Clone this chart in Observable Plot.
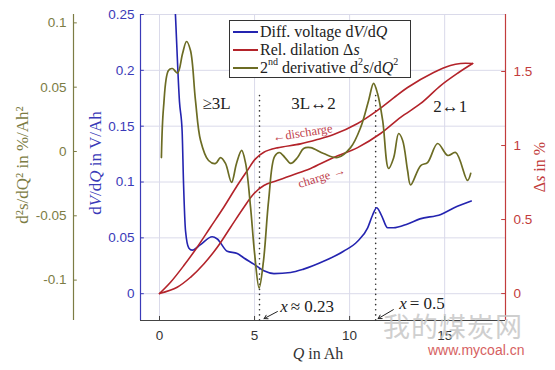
<!DOCTYPE html>
<html><head><meta charset="utf-8">
<script src="https://cdn.jsdelivr.net/npm/d3@7"></script>
<script src="https://cdn.jsdelivr.net/npm/@observablehq/plot@0.6"></script>
<style>
body{margin:0;background:#fff;}
#chart{position:relative;width:555px;height:370px;overflow:hidden;background:#fff;}
#chart svg{position:absolute;left:0;top:0;}
.ttl{position:absolute;font-family:"Liberation Serif",serif;font-size:17px;white-space:nowrap;transform:translate(-50%,-50%) rotate(-90deg);line-height:1;}
#xttl{position:absolute;font-family:"Liberation Serif",serif;font-size:16px;white-space:nowrap;transform:translate(-50%,-50%);color:#333;line-height:1;}
#legend{position:absolute;left:229px;top:20px;width:182px;height:58px;box-sizing:border-box;border:1px solid #333;background:#fff;font-family:"Liberation Serif",serif;font-size:16px;color:#222;padding-top:2px;}
#legend .row{height:18px;line-height:18px;white-space:nowrap;display:flex;align-items:center;}
#legend .sw{display:inline-block;width:25px;height:2px;margin:0 2px 0 3px;}
#legend sup{font-size:10px;position:relative;top:-6px;vertical-align:baseline;line-height:0;}
.wm1{position:absolute;left:383px;top:306px;font-family:"Noto Sans CJK SC",sans-serif;font-size:27px;color:#c4c4c4;opacity:0.8;letter-spacing:1px;}
.wm2{position:absolute;left:428px;top:342px;font-family:"Liberation Sans",sans-serif;font-size:14px;color:#d04545;opacity:0.85;}
</style></head><body>
<div id="chart"></div>
<script>
// ---- tick values ----
const qTicks = [0, 5, 10, 15];
const dvTicks = [0, 0.05, 0.1, 0.15, 0.2, 0.25];
const dsTicks = [0, 0.5, 1, 1.5];
const d2Ticks = [-0.1, -0.05, 0, 0.05, 0.1];

// ---- differential voltage dV/dQ (V/Ah) ----
const dvQ = [0.7,0.84,1.05,1.19,1.26,1.37,1.54,1.72,2.16,2.77,3.04,3.56,4.09,4.44,4.96,5.49,6.02,6.9,7.58,8.63,9.68,10.42,10.95,11.2,11.42,11.68,12.0,12.3,13.05,13.7,14.8,15.5,16.4];
const dvV = [0.30,0.249,0.172,0.1455,0.101,0.056,0.041,0.039,0.044,0.051,0.049,0.038,0.036,0.032,0.0265,0.0205,0.018,0.019,0.022,0.029,0.038,0.047,0.059,0.070,0.077,0.070,0.059,0.059,0.0625,0.067,0.071,0.077,0.083];

// ---- relative dilation Δs (%) ----
const disQ = [0,0.58,1.28,1.98,2.68,3.38,4.09,4.62,5.05,5.49,6.19,7.42,8.3,9.16,10.42,11.45,12.3,13.05,14.42,15.3,15.84,16.47];
const disS = [0,0.076,0.189,0.313,0.448,0.583,0.73,0.831,0.91,0.955,0.984,1.011,1.04,1.074,1.149,1.236,1.32,1.392,1.493,1.54,1.554,1.554];
const chgQ = [0,0.93,1.63,2.33,3.04,3.74,4.44,4.96,5.49,6.19,7.42,7.95,9.16,10.42,11.63,12.68,13.74,14.79,15.7,16.47];
const chgS = [0,0.043,0.11,0.2,0.313,0.448,0.583,0.674,0.73,0.764,0.82,0.845,0.919,0.986,1.081,1.19,1.284,1.405,1.49,1.554];

// ---- 2nd derivative d²s/dQ² (%/Ah²) ----
const d2Q = [0.1,0.21,0.47,0.68,0.95,1.21,1.42,1.63,1.89,2.16,2.58,2.95,3.21,3.47,3.79,4.05,4.32,4.53,4.79,5.0,5.24,5.47,5.74,6.05,6.3,6.6,6.9,7.26,7.58,7.95,8.63,9.37,10.05,10.58,11.0,11.26,11.47,11.74,12.05,12.32,12.58,12.79,13.05,13.21,13.74,14.1,14.63,15.16,15.58,16.2,16.37];
const d2V = [-0.0047,0.034,0.063,0.0645,0.061,0.076,0.0855,0.0785,0.040,0.0086,-0.007,-0.0093,-0.0047,-0.0093,-0.024,-0.0093,0.0008,-0.0093,-0.0435,-0.079,-0.106,-0.085,-0.038,-0.004,-0.0008,-0.0047,-0.0093,-0.0047,0.0023,0.003,-0.0016,-0.0047,0.003,0.0187,0.0397,0.053,0.045,0.024,-0.0132,-0.0047,0.014,0.0086,-0.0148,-0.026,-0.0109,-0.0086,0.0062,-0.0031,-0.0008,-0.0225,-0.017];

// ---- annotations ----
const phaseLabels = ["≥3L", "3L↔2", "2↔1"];
const phaseQ = [3.0, 8.1, 15.3];
const phaseV = [0.1705, 0.1705, 0.168];
const transQ = [5.26, 11.37];
const dirLabels = ["←discharge", "charge →"];
const dirQ = [7.53, 8.53];
const dirV = [0.144, 0.1045];
const dirAngle = [-9, -17];
const xEqLabels = ["≈ 0.23", "= 0.5"];
const xEqQ = [6.9, 13.16];
const xEqV = [-0.0116, -0.009];
const arrowQ1 = [6.2, 12.3], arrowV1 = [-0.016, -0.0143];
const arrowQ2 = [5.5, 11.5], arrowV2 = [-0.0223, -0.0223];

// ---- colours ----
const cBlue = "#2424b0", cRed = "#b3232a", cGreen = "#6c6c24";
const aBlue = "#3a3ab8", aRed = "#c23c3c", aGreen = "#7c7c44";

const W = 555, H = 370;
const M = {marginLeft: 140, marginRight: 50, marginTop: 14, marginBottom: 50};
const xDom = [-1, 18.2];
const dvDom = [-0.024, 0.25];
const dsDom = [-0.182, 1.885];
const d2Dom = [-0.1314, 0.1065];
const baseStyle = {fontFamily: "Liberation Sans, Arial, sans-serif", fontSize: "13.5px", overflow: "visible"};

const blueData = dvQ.map((q, i) => ({q, v: dvV[i]}));
const disData = disQ.map((q, i) => ({q, s: disS[i]}));
const chgData = chgQ.map((q, i) => ({q, s: chgS[i]}));
const d2Data = d2Q.map((q, i) => ({q, g: d2V[i]}));

const chart = document.getElementById("chart");

// Layer 1: grid, x axis, blue axis, blue curve, annotations
const p1 = Plot.plot({
  width: W, height: H, ...M,
  x: {domain: xDom}, y: {domain: dvDom},
  style: {...baseStyle, background: "white"},
  marks: [
    Plot.gridY(dvTicks, {stroke: "#dadaea", strokeOpacity: 1}),
    Plot.gridX(qTicks, {stroke: "#dadaea", strokeOpacity: 1}),
    Plot.ruleY([dvDom[0]], {stroke: "#444", strokeWidth: 1.2}),
    Plot.ruleX(qTicks, {y1: dvDom[0], y2: dvDom[0] + 0.0036, stroke: "#444"}),
    Plot.axisX(qTicks, {tickSize: 0, tickPadding: 10, label: null, tickFormat: d => String(d), color: "#333"}),
    Plot.ruleX([xDom[0]], {stroke: aBlue, strokeWidth: 1.2}),
    Plot.ruleY(dvTicks, {x1: xDom[0], x2: xDom[0] + 0.2, stroke: aBlue}),
    Plot.axisY(dvTicks, {tickSize: 0, tickPadding: 6, label: null, tickFormat: d => String(d), color: aBlue}),
    Plot.ruleX(transQ, {y1: dvDom[0], y2: 0.177, stroke: "#333", strokeWidth: 1.6, strokeDasharray: "0.1,5", strokeLinecap: "round"}),
    Plot.line(blueData, {x: "q", y: "v", stroke: cBlue, strokeWidth: 1.6, curve: "monotone-x", clip: true}),
    Plot.text(phaseLabels, {x: phaseQ, y: phaseV, text: d => d, fontFamily: "Liberation Serif, serif", fontSize: 17, fill: "#222"}),
    Plot.text(dirLabels, {x: dirQ, y: dirV, text: d => d, rotate: (d, i) => dirAngle[i], fontFamily: "Liberation Serif, serif", fontSize: 12.5, fill: "#c0404c", letterSpacing: "0.6px"}),
    Plot.text(xEqLabels, {x: xEqQ, y: xEqV, text: d => d, textAnchor: "start", fontFamily: "Liberation Serif, serif", fontSize: 17, fill: "#222"}),
    Plot.text(xEqLabels, {x: xEqQ, y: xEqV, text: () => "x", textAnchor: "end", dx: -3, fontStyle: "italic", fontFamily: "Liberation Serif, serif", fontSize: 17, fill: "#222"}),
    Plot.arrow(transQ, {x1: arrowQ1, y1: arrowV1, x2: arrowQ2, y2: arrowV2, stroke: "#222", strokeWidth: 1, headLength: 6})
  ]
});

// Layer 2: red dilation curves and right axis
const p2 = Plot.plot({
  width: W, height: H, ...M,
  x: {domain: xDom, axis: null}, y: {domain: dsDom},
  style: {...baseStyle, background: "transparent"},
  marks: [
    Plot.ruleX([xDom[1]], {stroke: aRed, strokeWidth: 1.2}),
    Plot.ruleY(dsTicks, {x1: xDom[1] - 0.2, x2: xDom[1], stroke: aRed}),
    Plot.axisY(dsTicks, {anchor: "right", tickSize: 0, tickPadding: 8, label: null, tickFormat: d => String(d), color: aRed}),
    Plot.line(disData, {x: "q", y: "s", stroke: cRed, strokeWidth: 1.6, curve: "catmull-rom"}),
    Plot.line(chgData, {x: "q", y: "s", stroke: cRed, strokeWidth: 1.6, curve: "catmull-rom"})
  ]
});

// Layer 3: green 2nd derivative and far-left axis
const gdx = -67;
const p3 = Plot.plot({
  width: W, height: H, ...M,
  x: {domain: xDom, axis: null}, y: {domain: d2Dom},
  style: {...baseStyle, background: "transparent"},
  marks: [
    Plot.ruleX([xDom[0]], {dx: gdx, stroke: aGreen, strokeWidth: 1.2}),
    Plot.ruleY(d2Ticks, {x1: xDom[0], x2: xDom[0] + 0.2, dx: gdx, stroke: aGreen}),
    Plot.axisY(d2Ticks, {tickSize: 0, tickPadding: 7, dx: gdx, label: null, tickFormat: d => String(d), color: aGreen}),
    Plot.line(d2Data, {x: "q", y: "g", stroke: cGreen, strokeWidth: 1.7, curve: "catmull-rom"})
  ]
});

for (const p of [p1, p2, p3]) chart.appendChild(p);

// axis titles, legend, watermark
chart.insertAdjacentHTML("beforeend", `
<div class="ttl" style="left:22px;top:165px;color:${aGreen}">d²s/dQ² in %/Ah²</div>
<div class="ttl" style="left:95px;top:163px;color:${aBlue}">d<i>V</i>/d<i>Q</i> in V/Ah</div>
<div class="ttl" style="left:540px;top:167px;color:${aRed};font-size:16px">Δ<i>s</i> in %</div>
<div id="xttl" style="left:318px;top:354px;"><i>Q</i> in Ah</div>
<div id="legend">
  <div class="row"><span class="sw" style="background:${cBlue}"></span>Diff. voltage d<i>V</i>/d<i>Q</i></div>
  <div class="row"><span class="sw" style="background:${cRed}"></span>Rel. dilation Δ<i>s</i></div>
  <div class="row"><span class="sw" style="background:${cGreen}"></span>2<sup>nd</sup>&nbsp;derivative d<sup>2</sup><i>s</i>/d<i>Q</i><sup>2</sup></div>
</div>
<div class="wm1">我的煤炭网</div>
<div class="wm2">www.mycoal.cn</div>
`);
</script>
</body></html>
